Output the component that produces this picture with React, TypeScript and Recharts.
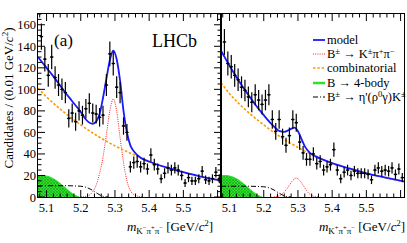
import React from 'react';
import { ComposedChart, Line, Area, Scatter, ErrorBar, XAxis, YAxis } from 'recharts';

// bin centres (0.01 GeV/c^2 bins)
const BIN_CENTERS = [
  5.085, 5.095, 5.105, 5.115, 5.125, 5.135, 5.145, 5.155, 5.165, 5.175,
  5.185, 5.195, 5.205, 5.215, 5.225, 5.235, 5.245, 5.255, 5.265, 5.275,
  5.285, 5.295, 5.305, 5.315, 5.325, 5.335, 5.345, 5.355, 5.365, 5.375,
  5.385, 5.395, 5.405, 5.415, 5.425, 5.435, 5.445, 5.455, 5.465, 5.475,
  5.485, 5.495, 5.505, 5.515, 5.525, 5.535, 5.545, 5.555, 5.565, 5.575,
  5.585, 5.595, 5.605,
];
const HALF_BIN = 0.005;

// (a) K- pi+ pi-
const LEFT_COUNTS = [
  149, 128, 113, 130, 111, 104, 100, 97, 73, 78,
  70, 80, 76, 82, 87, 78, 77, 74, 76, 104,
  133, 124, 102, 97, 66, 60, 28, 32, 33, 28,
  31, 26, 39, 30, 26, 17, 22, 27, 25, 27,
  25, 20, 13, 18, 15, 15, 17, 24, 16, 15,
  17, 23, 17,
];
// K+ pi+ pi-
const RIGHT_COUNTS = [
  144, 124, 121, 113, 109, 102, 99, 93, 88, 95,
  90, 86, 90, 95, 72, 61, 72, 56, 48, 57,
  72, 69, 51, 41, 35, 35, 40, 31, 33, 25,
  28, 30, 44, 25, 17, 23, 25, 20, 24, 22,
  22, 22, 21, 16, 25, 27, 24, 25, 24, 27,
  21, 26, 18,
];

const MODEL_L_X = [5.075, 5.1, 5.125, 5.15, 5.175, 5.2, 5.215, 5.235, 5.245, 5.255, 5.265, 5.275, 5.285, 5.295, 5.305, 5.315, 5.325, 5.335, 5.345, 5.355, 5.375, 5.4, 5.45, 5.5, 5.55, 5.61];
const MODEL_L = [130, 120, 110, 99, 89, 79, 72, 68, 70, 77, 92, 110, 127, 136, 128, 108, 80, 60, 48, 42.5, 36.5, 33, 27.5, 23, 19, 15.5];
const MODEL_R_X = [5.075, 5.1, 5.125, 5.15, 5.175, 5.2, 5.225, 5.245, 5.26, 5.275, 5.29, 5.3, 5.31, 5.32, 5.335, 5.35, 5.375, 5.4, 5.45, 5.5, 5.55, 5.61];
const MODEL_R = [136, 122, 109, 97, 86, 76, 67, 61.5, 60.5, 62.5, 64.5, 61, 54, 47, 41, 38, 34.5, 31.5, 26.5, 22, 18.5, 14.5];

const SIG_L_X = [5.2, 5.22, 5.235, 5.245, 5.255, 5.265, 5.275, 5.285, 5.295, 5.305, 5.315, 5.325, 5.335, 5.345, 5.36, 5.38];
const SIG_L = [0, 1, 5, 11, 22, 37, 58, 80, 91, 80, 55, 32, 15, 6, 1.5, 0];
const SIG_R_X = [5.23, 5.245, 5.255, 5.265, 5.275, 5.285, 5.295, 5.305, 5.315, 5.325, 5.335, 5.345, 5.36];
const SIG_R = [0, 1, 3, 6.5, 11, 15.5, 17.5, 15.5, 11, 6, 2.5, 0.8, 0];

const COMB_X = [5.075, 5.1, 5.15, 5.2, 5.25, 5.3, 5.35, 5.4, 5.45, 5.5, 5.55, 5.61];
const COMB_L = [101, 93, 79, 67, 56.5, 47.5, 40, 32.5, 27.3, 22.8, 19, 15.3];
const COMB_R = [106, 96, 80, 67, 55.5, 46, 38, 31.3, 26.2, 21.8, 18.2, 14.4];

const FOUR_BODY_X = [5.075, 5.09, 5.1, 5.11, 5.12, 5.13, 5.14, 5.15, 5.16, 5.17, 5.18, 5.19, 5.195];
const FOUR_BODY = [20, 20, 19.5, 18.5, 17, 15, 12.5, 10, 7, 4.5, 2.2, 0.6, 0];

const ETAP_X = [5.075, 5.1, 5.15, 5.2, 5.21, 5.22, 5.23, 5.24, 5.25, 5.26, 5.27, 5.28];
const ETAP_L = [10.5, 10.5, 10.5, 10, 9.5, 8.5, 7, 5, 3, 1.2, 0.3, 0];
const ETAP_R = [10, 10, 10, 9.5, 9, 8, 6.5, 4.5, 2.7, 1, 0.3, 0];

const X_DOMAIN: [number, number] = [5.075, 5.61];
const Y_DOMAIN: [number, number] = [0, 170];
const X_LABELS = ['5.1', '5.2', '5.3', '5.4', '5.5'];
const Y_LABELS = [0, 20, 40, 60, 80, 100, 120, 140, 160];

const X_TICKS: number[] = [];
for (let i = 0; i <= 26; i++) X_TICKS.push(Math.round((5.08 + 0.02 * i) * 100) / 100);
const Y_TICKS: number[] = [];
for (let v = 0; v <= 170; v += 5) Y_TICKS.push(v);

const FONT = '"Liberation Serif", "Times New Roman", serif';
const MAJOR = 7;
const MINOR = 3.5;
const PLOT_TOP = 14;
const PLOT_SIZE = 183;

const pts = (xs: number[], ys: number[]) => xs.map((x, i) => ({ x, y: ys[i] }));
const dataPoints = (counts: number[]) =>
  BIN_CENTERS.map((x, i) => ({ x, y: counts[i], ey: Math.sqrt(counts[i]), ex: HALF_BIN }));

const isMajorX = (v: number) => Math.abs(v * 10 - Math.round(v * 10)) < 1e-6;

// bottom axis tick: also draws the mirrored tick on the top edge
const BottomTick = (props: any) => {
  const { x, y, payload } = props;
  const v = payload.value;
  const len = isMajorX(v) ? MAJOR : MINOR;
  const label = v.toFixed(1);
  return (
    <g>
      <line x1={x} x2={x} y1={y} y2={y - len} stroke="#000" strokeWidth={1} />
      <line x1={x} x2={x} y1={PLOT_TOP} y2={PLOT_TOP + len} stroke="#000" strokeWidth={1} />
      {isMajorX(v) && X_LABELS.includes(label) && (
        <text x={x} y={y + 15} textAnchor="middle" fontFamily={FONT} fontSize={12.5} fill="#000">
          {label}
        </text>
      )}
    </g>
  );
};

// left axis tick: also draws the mirrored tick on the right edge
const LeftTick = (props: any) => {
  const { x, y, payload, showLabels } = props;
  const v = payload.value;
  const len = v % 20 === 0 ? MAJOR : MINOR;
  return (
    <g>
      <line x1={x} x2={x + len} y1={y} y2={y} stroke="#000" strokeWidth={1} />
      <line x1={x + PLOT_SIZE} x2={x + PLOT_SIZE - len} y1={y} y2={y} stroke="#000" strokeWidth={1} />
      {showLabels && Y_LABELS.includes(v) && (
        <text x={x - 2} y={y + 4.5} textAnchor="end" fontFamily={FONT} fontSize={12.5} fill="#000">
          {v}
        </text>
      )}
    </g>
  );
};

const Dot = (props: any) => <circle cx={props.cx} cy={props.cy} r={1.1} fill="#000" />;

const Panel = ({ id, counts, model, modelX, sig, sigX, comb, etap, yWidth }: any) => (
  <ComposedChart
    width={yWidth ? 224 : 189}
    height={243}
    margin={{ top: PLOT_TOP, right: 3, bottom: 0, left: yWidth ? 0 : 3 }}
  >
    <defs>
      <pattern id={`hatch-${id}`} width="3" height="3" patternUnits="userSpaceOnUse">
        <rect width="3" height="3" fill="#2fe02f" />
        <path d="M0,3 L3,0" stroke="#17a317" strokeWidth="0.6" />
        <path d="M0,0 L3,3" stroke="#17a317" strokeWidth="0.6" />
      </pattern>
    </defs>
    <XAxis
      dataKey="x"
      type="number"
      domain={X_DOMAIN}
      allowDataOverflow
      ticks={X_TICKS}
      interval={0}
      height={46}
      tickSize={0}
      tickMargin={0}
      tickLine={false}
      axisLine={false}
      tick={<BottomTick />}
    />
    <YAxis
      dataKey="y"
      type="number"
      domain={Y_DOMAIN}
      allowDataOverflow
      ticks={Y_TICKS}
      interval={0}
      width={yWidth}
      tickSize={0}
      tickMargin={0}
      tickLine={false}
      axisLine={false}
      tick={<LeftTick showLabels={yWidth > 0} />}
    />
    <Area
      data={pts(FOUR_BODY_X, FOUR_BODY)}
      dataKey="y"
      type="monotone"
      stroke="#2fe02f"
      strokeWidth={1}
      fill={`url(#hatch-${id})`}
      fillOpacity={1}
      dot={false}
      activeDot={false}
      isAnimationActive={false}
    />
    <Line
      data={pts(ETAP_X, etap)}
      dataKey="y"
      type="monotone"
      stroke="#000"
      strokeWidth={1}
      strokeDasharray="5 2 1 2"
      dot={false}
      activeDot={false}
      isAnimationActive={false}
    />
    <Line
      data={pts(sigX, sig)}
      dataKey="y"
      type="monotone"
      stroke="#ff2020"
      strokeWidth={1}
      strokeDasharray="1 1.2"
      dot={false}
      activeDot={false}
      isAnimationActive={false}
    />
    <Line
      data={pts(COMB_X, comb)}
      dataKey="y"
      type="monotone"
      stroke="#ff9900"
      strokeWidth={1.6}
      strokeDasharray="2.5 1.8"
      dot={false}
      activeDot={false}
      isAnimationActive={false}
    />
    <Line
      data={pts(modelX, model)}
      dataKey="y"
      type="monotone"
      stroke="#1a1aff"
      strokeWidth={1.8}
      dot={false}
      activeDot={false}
      isAnimationActive={false}
    />
    <Scatter data={dataPoints(counts)} dataKey="y" shape={<Dot />} isAnimationActive={false}>
      <ErrorBar dataKey="ey" direction="y" width={0} stroke="#000" strokeWidth={1.2} />
      <ErrorBar dataKey="ex" direction="x" width={0} stroke="#000" strokeWidth={1.2} />
    </Scatter>
  </ComposedChart>
);

const sub = (size: number, top: number): React.CSSProperties => ({ fontSize: size, position: 'relative', top, lineHeight: 1 });

const MassTitle = ({ first }: { first: string }) => (
  <span>
    <i>m</i>
    <span style={sub(9, 3)}>
      K<span style={sub(6.5, -4)}>{first}</span>π<span style={sub(6.5, -4)}>+</span>π<span style={sub(6.5, -4)}>−</span>
    </span>{' '}
    [GeV/<i>c</i>
    <span style={sub(8.5, -5)}>2</span>]
  </span>
);

const LegendRow = ({ children, sample, top }: any) => (
  <div style={{ position: 'absolute', left: 0, top, height: 12, lineHeight: '12px', display: 'flex', alignItems: 'center', whiteSpace: 'nowrap' }}>
    <svg width={13} height={10} style={{ marginRight: 1 }}>{sample}</svg>
    <span>{children}</span>
  </div>
);

const sup = (t: string) => <span style={sub(8.5, -4)}>{t}</span>;

const frameBox = (left: number): React.CSSProperties => ({
  position: 'absolute',
  left: left - 0.75,
  top: PLOT_TOP - 0.75,
  width: PLOT_SIZE,
  height: PLOT_SIZE,
  border: '1.5px solid #000',
  pointerEvents: 'none',
});

export default function App() {
  return (
    <div style={{ position: 'absolute', left: 0, top: 0, width: 407, height: 243, background: '#fff', fontFamily: FONT, color: '#000', overflow: 'hidden' }}>
      <div style={{ position: 'absolute', left: 0, top: 0 }}>
        <Panel id="a" counts={LEFT_COUNTS} model={MODEL_L} modelX={MODEL_L_X} sig={SIG_L} sigX={SIG_L_X} comb={COMB_L} etap={ETAP_L} yWidth={38} />
      </div>
      <div style={{ position: 'absolute', left: 218, top: 0 }}>
        <Panel id="b" counts={RIGHT_COUNTS} model={MODEL_R} modelX={MODEL_R_X} sig={SIG_R} sigX={SIG_R_X} comb={COMB_R} etap={ETAP_R} yWidth={0} />
      </div>
      <div style={frameBox(38)} />
      <div style={frameBox(221)} />

      <div style={{ position: 'absolute', left: 9 - 100, top: 98 - 9, width: 200, height: 18, lineHeight: '18px', textAlign: 'center', fontSize: 13, transform: 'rotate(-90deg)', whiteSpace: 'nowrap' }}>
        Candidates / (0.01 GeV/<i>c</i><span style={sub(9, -5)}>2</span>)
      </div>

      <div style={{ position: 'absolute', left: 54, top: 31, fontSize: 17, lineHeight: '20px' }}>(a)</div>
      <div style={{ position: 'absolute', left: 152, top: 31, fontSize: 18, lineHeight: '20px' }}>LHCb</div>

      <div style={{ position: 'absolute', left: 100, width: 113, top: 219, fontSize: 13, lineHeight: '16px', textAlign: 'right', whiteSpace: 'nowrap' }}>
        <MassTitle first="−" />
      </div>
      <div style={{ position: 'absolute', left: 290, width: 115, top: 219, fontSize: 13, lineHeight: '16px', textAlign: 'right', whiteSpace: 'nowrap' }}>
        <MassTitle first="+" />
      </div>

      <div style={{ position: 'absolute', left: 313, top: 34, fontSize: 12.5 }}>
        <LegendRow top={0} sample={<line x1={0} x2={12} y1={5} y2={5} stroke="#1a1aff" strokeWidth={1.8} />}>model</LegendRow>
        <LegendRow top={14.2} sample={<line x1={0} x2={12} y1={5} y2={5} stroke="#ff2020" strokeWidth={1} strokeDasharray="1 1.2" />}>
          B{sup('±')} → K{sup('±')}π{sup('+')}π{sup('−')}
        </LegendRow>
        <LegendRow top={28.4} sample={<line x1={0} x2={12} y1={5} y2={5} stroke="#ff9900" strokeWidth={1.6} strokeDasharray="2.5 1.8" />}>combinatorial</LegendRow>
        <LegendRow top={42.6} sample={<line x1={0} x2={12} y1={5} y2={5} stroke="#2fe02f" strokeWidth={2.5} />}>B → 4-body</LegendRow>
        <LegendRow top={56.8} sample={<line x1={0} x2={12} y1={5} y2={5} stroke="#000" strokeWidth={1} strokeDasharray="5 2 1 2" />}>
          B{sup('±')} → η'(ρ{sup('0')}γ)K{sup('±')}
        </LegendRow>
      </div>
    </div>
  );
}
